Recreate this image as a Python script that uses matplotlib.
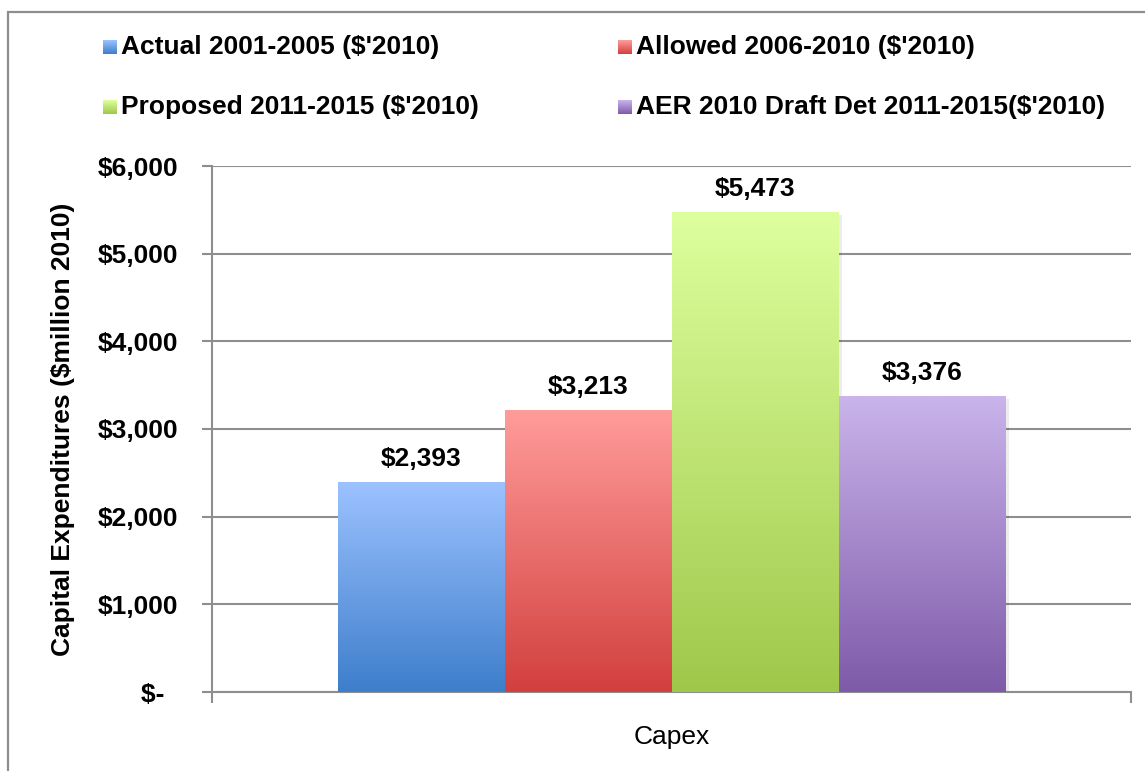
import numpy as np
import matplotlib
matplotlib.use("Agg")
import matplotlib.pyplot as plt
from matplotlib.patches import Rectangle
from matplotlib.colors import LinearSegmentedColormap

# ---- data ----
category = "Capex"
series = ["Actual 2001-2005 ($'2010)", "Allowed 2006-2010 ($'2010)",
          "Proposed 2011-2015 ($'2010)", "AER 2010 Draft Det 2011-2015($'2010)"]
values = [2393, 3213, 5473, 3376]
value_labels = ["$2,393", "$3,213", "$5,473", "$3,376"]
yticks = [0, 1000, 2000, 3000, 4000, 5000, 6000]
ytick_labels = ["$-  ", "$1,000", "$2,000", "$3,000", "$4,000", "$5,000", "$6,000"]
ylabel = "Capital Expenditures ($million 2010)"

# gradient colours (top, bottom)
grads = [("#9CC2FF", "#3E7ECB"), ("#FF9C9A", "#D2403E"),
         ("#DEFF9E", "#9FC84A"), ("#CAB4EB", "#7E5AA8")]

plt.rcParams['font.family'] = ['Liberation Sans', 'DejaVu Sans']

W, H = 1145, 771
FS = 19
fig = plt.figure(figsize=(W / 100, H / 100), dpi=100)

# outer frame
fig.patches.append(Rectangle((8 / W, -0.1), 1.2, (H - 12) / H + 0.1, transform=fig.transFigure,
                             fill=False, edgecolor="#8E8E8E", linewidth=1.6))

ax = fig.add_axes([212 / W, 79 / H, 919 / W, 526 / H])
ax.set_xlim(-0.5, 0.5)
ax.set_ylim(0, 6000)

bw = 167 / 919
n = len(values)
for i, (v, (ct, cb)) in enumerate(zip(values, grads)):
    x = (i - (n - 1) / 2) * bw
    bars = ax.bar(x, v, width=bw, color="none", edgecolor="none", zorder=3)
    r = bars[0]
    cmap = LinearSegmentedColormap.from_list("g%d" % i, [cb, ct])
    grad = np.linspace(0, 1, 256).reshape(-1, 1)
    x0 = r.get_x()
    # subtle shadow
    ax.add_patch(Rectangle((x0 + 0.004, 0), bw, v - 30, facecolor="#000000", alpha=0.07,
                           edgecolor="none", zorder=2.5))
    ax.imshow(grad, extent=[x0, x0 + bw, 0, v], origin="lower", aspect="auto",
              cmap=cmap, zorder=3, interpolation="bilinear")
    ax.annotate(value_labels[i], xy=(x, v), xytext=(0, 8), textcoords="offset points",
                ha="center", va="bottom", fontsize=FS, fontweight="bold", zorder=5)
ax.set_xlim(-0.5, 0.5)
ax.set_ylim(0, 6000)

grid_c = "#8E8E8E"
ax.set_yticks(yticks)
ax.set_yticklabels(ytick_labels, fontsize=FS, fontweight="bold")
ax.yaxis.grid(True, color=grid_c, linewidth=1.5, zorder=1)
ax.set_axisbelow(True)
ax.tick_params(axis="y", length=7, width=1.5, color=grid_c, pad=17)

ax.set_xticks([0])
ax.set_xticklabels([category], fontsize=FS)
ax.set_xticks([-0.5, 0.5], minor=True)
ax.tick_params(axis="x", which="major", length=0, pad=24)
ax.tick_params(axis="x", which="minor", length=8, width=1.5, color=grid_c)

for s in ["top", "right"]:
    ax.spines[s].set_visible(False)
for s in ["left", "bottom"]:
    ax.spines[s].set_color(grid_c)
    ax.spines[s].set_linewidth(1.5)

ax.set_ylabel(ylabel, fontsize=FS, fontweight="bold")
ax.yaxis.set_label_coords(-137 / 919, 0.5)

# legend (manual, two columns)
leg_pos = [(103, 47), (618, 47), (103, 107), (618, 107)]
for (lx, ly), name, (ct, cb), k in zip(leg_pos, series, grads, range(n)):
    sz = 14
    lax = fig.add_axes([lx / W, (H - ly - sz / 2) / H, sz / W, sz / H])
    cmap = LinearSegmentedColormap.from_list("l%d" % k, [cb, ct])
    lax.imshow(np.linspace(0, 1, 64).reshape(-1, 1), origin="lower", aspect="auto", cmap=cmap)
    lax.axis("off")
    fig.text((lx + sz + 4) / W, (H - ly) / H, name, fontsize=FS, fontweight="bold",
             ha="left", va="center")

fig.savefig("out.png", dpi=100)
